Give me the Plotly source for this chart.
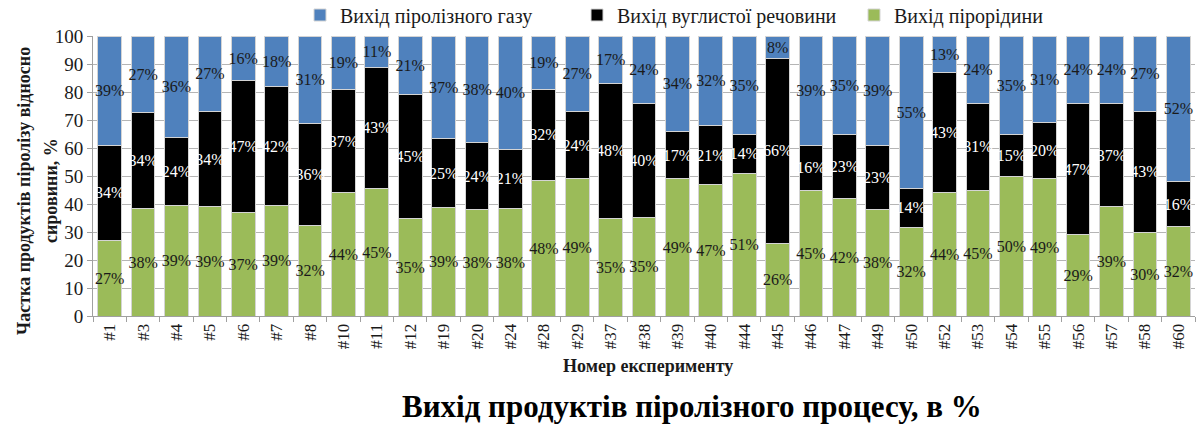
import plotly.graph_objects as go

categories = ["#1", "#3", "#4", "#5", "#6", "#7", "#8", "#10", "#11", "#12", "#19", "#20",
              "#24", "#28", "#29", "#37", "#38", "#39", "#40", "#44", "#45", "#46", "#47",
              "#49", "#50", "#52", "#53", "#54", "#55", "#56", "#57", "#58", "#60"]

liquid = [27, 38, 39, 39, 37, 39, 32, 44, 45, 35, 39, 38, 38, 48, 49, 35, 35, 49, 47, 51,
          26, 45, 42, 38, 32, 44, 45, 50, 49, 29, 39, 30, 32]
char = [34, 34, 24, 34, 47, 42, 36, 37, 43, 45, 25, 24, 21, 32, 24, 48, 40, 17, 21, 14,
        66, 16, 23, 23, 14, 43, 31, 15, 20, 47, 37, 43, 16]
gas = [39, 27, 36, 27, 16, 18, 31, 19, 11, 21, 37, 38, 40, 19, 27, 17, 24, 34, 32, 35,
       8, 39, 35, 39, 55, 13, 24, 35, 31, 24, 24, 27, 52]

series_names = ["Вихід пірорідини", "Вихід вуглистої речовини", "Вихід піролізного газу"]

SERIF = "Liberation Serif, Times New Roman, serif"

L, R, T, B = 93, 5, 36, 109
W, H = 1200, 425
PW, PH = W - L - R, H - T - B

fig = go.Figure()
series = [
    (series_names[0], liquid, "#9bbb59", "#1a1a1a"),
    (series_names[1], char, "#000000", "#ffffff"),
    (series_names[2], gas, "#4f81bd", "#1a1a1a"),
]
for name, vals, color, tcolor in series:
    fig.add_trace(go.Bar(
        x=categories, y=vals, name=name,
        marker=dict(color=color, line=dict(color="#d4d4d4", width=1)),
        text=[f"{v}%" for v in vals],
        textposition="inside", insidetextanchor="middle", textangle=0,
        constraintext="none",
        textfont=dict(family=SERIF, size=16, color=tcolor),
    ))

fig.update_layout(
    width=W, height=H,
    barmode="stack", barnorm="percent", bargap=0.29,
    plot_bgcolor="white", paper_bgcolor="white",
    margin=dict(l=L, r=R, t=T, b=B, autoexpand=False),
    font=dict(family=SERIF, color="#1a1a1a"),
    showlegend=True,
    legend=dict(orientation="h", traceorder="reversed",
                x=(300 - L) / PW, xanchor="left", y=1 + (T - 15) / PH, yanchor="middle",
                font=dict(family=SERIF, size=20, color="#1a1a1a"),
                entrywidth=232, itemwidth=30),
)
fig.update_yaxes(range=[0, 100], dtick=10, showgrid=True, gridcolor="#b5b5b5",
                 showline=True, linecolor="#a0a0a0", ticks="outside", ticklen=5,
                 tickcolor="#a0a0a0", tickfont=dict(family=SERIF, size=19, color="#1a1a1a"),
                 zeroline=False)
fig.update_xaxes(showline=True, linecolor="#a0a0a0", ticks="outside", ticklen=5,
                 tickcolor="#a0a0a0", tickson="boundaries", tickangle=-90,
                 tickfont=dict(family=SERIF, size=17, color="#1a1a1a"))

fig.add_annotation(text="<b>Частка продуктів піролізу відносно</b>", textangle=-90,
                   xref="paper", yref="paper", x=(24 - L) / PW, y=(316 - 191) / PH,
                   xanchor="center", yanchor="middle", showarrow=False,
                   font=dict(family=SERIF, size=18, color="#1a1a1a"))
fig.add_annotation(text="<b>сировини, %</b>", textangle=-90,
                   xref="paper", yref="paper", x=(51 - L) / PW, y=(316 - 191) / PH,
                   xanchor="center", yanchor="middle", showarrow=False,
                   font=dict(family=SERIF, size=18, color="#1a1a1a"))
fig.add_annotation(text="<b>Номер експерименту</b>",
                   xref="paper", yref="paper", x=(648 - L) / PW, y=(316 - 366) / PH,
                   xanchor="center", yanchor="middle", showarrow=False,
                   font=dict(family=SERIF, size=18, color="#1a1a1a"))
fig.add_annotation(text="<b>Вихід продуктів піролізного процесу, в %</b>",
                   xref="paper", yref="paper", x=(692 - L) / PW, y=(316 - 406) / PH,
                   xanchor="center", yanchor="middle", showarrow=False,
                   font=dict(family=SERIF, size=31, color="#000000"))

fig.write_html("out.html", config={"displayModeBar": False},
               post_script="document.body.style.margin='0';document.body.style.padding='0';")
